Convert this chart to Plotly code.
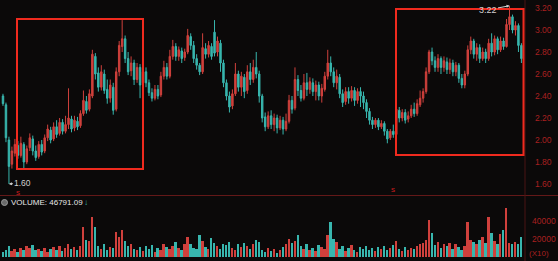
import plotly.graph_objects as go

# ---------------- data ----------------
opens = [2.40, 2.32, 2.00, 1.78, 1.88, 1.95, 1.86, 1.96, 1.80, 1.93,
         2.01, 1.90, 1.85, 1.96, 1.90, 2.02, 2.09, 2.01, 2.12, 2.06,
         2.16, 2.08, 2.14, 2.19, 2.11, 2.17, 2.13, 2.24, 2.35, 2.28,
         2.40, 2.76, 2.61, 2.48, 2.60, 2.46, 2.38, 2.48, 2.28, 2.62,
         2.85, 2.92, 2.74, 2.63, 2.70, 2.55, 2.66, 2.52, 2.62, 2.52,
         2.43, 2.38, 2.46, 2.41, 2.58, 2.66, 2.58, 2.76, 2.85, 2.76,
         2.81, 2.75, 2.80, 2.94, 2.86, 2.74, 2.68, 2.62, 2.83, 2.78,
         2.85, 2.98, 2.80, 2.88, 2.70, 2.52, 2.40, 2.31, 2.42, 2.60,
         2.48, 2.57, 2.45, 2.62, 2.55, 2.66, 2.60, 2.40, 2.21, 2.12,
         2.22, 2.14, 2.20, 2.11, 2.18, 2.10, 2.17, 2.36, 2.29, 2.55,
         2.45, 2.38, 2.52, 2.46, 2.52, 2.44, 2.50, 2.40, 2.46, 2.58,
         2.70, 2.62, 2.52, 2.57, 2.42, 2.35, 2.44, 2.38, 2.45, 2.36,
         2.44, 2.40, 2.34, 2.26, 2.18, 2.14, 2.18, 2.12, 2.15, 2.08,
         2.02, 2.08, 2.05, 2.27, 2.20, 2.25, 2.19, 2.22, 2.28, 2.24,
         2.32, 2.38, 2.44, 2.62, 2.80, 2.72, 2.66, 2.74, 2.66, 2.71,
         2.64, 2.70, 2.62, 2.68, 2.56, 2.50, 2.60, 2.82, 2.90, 2.78,
         2.84, 2.74, 2.80, 2.74, 2.88, 2.80, 2.92, 2.82, 2.90, 2.85,
         3.05, 3.12, 3.00, 3.04, 2.86]
closes = [2.33, 2.02, 1.76, 1.90, 1.96, 1.86, 1.97, 1.80, 1.92, 2.02,
          1.90, 1.84, 1.96, 1.89, 2.02, 2.10, 2.00, 2.12, 2.05, 2.16,
          2.08, 2.14, 2.20, 2.10, 2.18, 2.12, 2.24, 2.36, 2.27, 2.42,
          2.78, 2.60, 2.48, 2.62, 2.45, 2.38, 2.50, 2.27, 2.62, 2.86,
          2.92, 2.74, 2.62, 2.70, 2.55, 2.66, 2.50, 2.62, 2.52, 2.43,
          2.38, 2.46, 2.40, 2.58, 2.66, 2.58, 2.76, 2.85, 2.76, 2.82,
          2.74, 2.80, 2.95, 2.86, 2.74, 2.68, 2.62, 2.84, 2.78, 2.86,
          2.76, 2.79, 2.90, 2.70, 2.52, 2.40, 2.30, 2.42, 2.60, 2.48,
          2.58, 2.44, 2.62, 2.55, 2.66, 2.60, 2.40, 2.20, 2.12, 2.22,
          2.14, 2.20, 2.11, 2.18, 2.10, 2.17, 2.36, 2.28, 2.55, 2.45,
          2.38, 2.52, 2.46, 2.53, 2.44, 2.50, 2.40, 2.47, 2.58, 2.70,
          2.62, 2.52, 2.58, 2.42, 2.34, 2.44, 2.38, 2.45, 2.36, 2.44,
          2.40, 2.34, 2.26, 2.18, 2.14, 2.18, 2.12, 2.15, 2.08, 2.01,
          2.08, 2.05, 2.28, 2.20, 2.25, 2.18, 2.22, 2.28, 2.24, 2.33,
          2.38, 2.44, 2.62, 2.80, 2.72, 2.66, 2.74, 2.66, 2.72, 2.64,
          2.70, 2.62, 2.68, 2.56, 2.50, 2.60, 2.82, 2.90, 2.78, 2.84,
          2.74, 2.80, 2.74, 2.88, 2.80, 2.92, 2.82, 2.90, 2.85, 3.05,
          3.12, 3.00, 3.04, 2.86, 2.74]
highs = [2.42, 2.34, 2.03, 1.94, 2.01, 1.99, 2.03, 1.98, 1.95, 2.06,
         2.04, 1.95, 1.99, 2.00, 2.05, 2.14, 2.12, 2.16, 2.18, 2.20,
         2.19, 2.22, 2.47, 2.22, 2.22, 2.21, 2.27, 2.45, 2.40, 2.46,
         2.82, 2.79, 2.66, 2.68, 2.64, 2.55, 2.55, 2.52, 2.66, 2.90,
         3.09, 2.95, 2.80, 2.76, 2.73, 2.70, 2.69, 2.68, 2.66, 2.55,
         2.47, 2.50, 2.50, 2.62, 2.72, 2.70, 2.82, 2.91, 2.88, 2.85,
         2.84, 2.83, 3.01, 2.97, 2.90, 2.78, 2.70, 2.97, 2.88, 2.90,
         2.88, 3.09, 2.94, 2.91, 2.73, 2.55, 2.44, 2.46, 2.70, 2.63,
         2.62, 2.60, 2.68, 2.70, 2.73, 2.80, 2.63, 2.42, 2.25, 2.26,
         2.27, 2.24, 2.23, 2.22, 2.21, 2.24, 2.41, 2.40, 2.66, 2.59,
         2.50, 2.60, 2.61, 2.57, 2.56, 2.54, 2.53, 2.51, 2.62, 2.82,
         2.76, 2.66, 2.64, 2.60, 2.46, 2.48, 2.48, 2.49, 2.48, 2.47,
         2.48, 2.44, 2.37, 2.29, 2.21, 2.20, 2.20, 2.18, 2.17, 2.10,
         2.10, 2.14, 2.34, 2.30, 2.28, 2.28, 2.26, 2.32, 2.34, 2.37,
         2.45, 2.47, 2.66, 2.82, 2.84, 2.76, 2.78, 2.76, 2.76, 2.75,
         2.74, 2.73, 2.71, 2.70, 2.60, 2.63, 2.86, 2.94, 2.92, 2.88,
         2.87, 2.84, 2.83, 2.92, 2.97, 2.95, 2.94, 2.94, 2.93, 3.10,
         3.22, 3.14, 3.08, 3.06, 2.88]
lows = [2.31, 1.98, 1.60, 1.74, 1.85, 1.83, 1.84, 1.73, 1.78, 1.90,
        1.86, 1.81, 1.83, 1.86, 1.88, 1.99, 1.97, 1.99, 2.02, 2.04,
        2.05, 2.06, 2.10, 2.07, 2.08, 2.09, 2.11, 2.22, 2.24, 2.26,
        2.38, 2.55, 2.44, 2.45, 2.42, 2.33, 2.34, 2.23, 2.26, 2.58,
        2.80, 2.70, 2.59, 2.58, 2.50, 2.52, 2.38, 2.48, 2.48, 2.40,
        2.35, 2.36, 2.37, 2.39, 2.55, 2.55, 2.56, 2.73, 2.72, 2.72,
        2.70, 2.72, 2.78, 2.82, 2.70, 2.64, 2.59, 2.60, 2.74, 2.75,
        2.73, 2.76, 2.76, 2.62, 2.48, 2.36, 2.25, 2.28, 2.40, 2.44,
        2.40, 2.38, 2.42, 2.50, 2.52, 2.56, 2.34, 2.16, 2.08, 2.10,
        2.10, 2.08, 2.06, 2.09, 2.05, 2.08, 2.15, 2.24, 2.27, 2.40,
        2.35, 2.36, 2.40, 2.42, 2.40, 2.36, 2.36, 2.34, 2.44, 2.55,
        2.58, 2.48, 2.46, 2.38, 2.30, 2.32, 2.33, 2.35, 2.31, 2.33,
        2.30, 2.28, 2.20, 2.14, 2.10, 2.11, 2.09, 2.10, 2.04, 1.97,
        2.00, 2.02, 2.04, 2.16, 2.17, 2.15, 2.16, 2.20, 2.21, 2.22,
        2.30, 2.34, 2.42, 2.60, 2.68, 2.62, 2.62, 2.60, 2.62, 2.60,
        2.60, 2.58, 2.58, 2.52, 2.47, 2.47, 2.58, 2.78, 2.74, 2.72,
        2.70, 2.72, 2.70, 2.72, 2.76, 2.77, 2.78, 2.80, 2.82, 2.84,
        3.00, 2.97, 2.95, 2.80, 2.70]
volumes_k = [6, 8, 12, 7, 9, 6, 10, 8, 12, 10,
             13, 8, 9, 7, 10, 6, 9, 11, 8, 12,
             7, 10, 14, 9, 11, 8, 12, 33, 19, 18,
             44, 33, 12, 9, 14, 8, 11, 10, 28, 22,
             30, 18, 12, 15, 9, 8, 11, 7, 12, 9,
             13, 6, 10, 8, 14, 11, 9, 12, 17, 10,
             8, 15, 22, 14, 10, 9, 25, 18, 11, 9,
             21, 16, 12, 9, 15, 13, 17, 10, 8, 14,
             11, 16, 12, 9, 14, 19, 17, 8, 6, 10,
             7, 9, 5, 8, 11, 14, 20, 16, 18, 24,
             12, 9, 15, 8, 10, 7, 13, 11, 9, 25,
             39, 20, 17, 9, 12, 7, 10, 13, 8, 6,
             11, 9, 12, 8, 10, 7, 11, 9, 12, 8,
             10, 13, 18, 9, 7, 11, 8, 10, 9, 12,
             14, 16, 19, 41, 27, 13, 17, 10, 15, 12,
             16, 9, 14, 11, 8, 12, 39, 19, 17, 14,
             19, 22, 16, 44, 27, 18, 15, 26, 30, 54,
             16, 14, 17, 15, 22]
price_ticks = [1.60, 1.80, 2.00, 2.20, 2.40, 2.60, 2.80, 3.00, 3.20]
volume_ticks = [20000, 40000]

n = len(closes)
assert len(opens) == n and len(highs) == n and len(lows) == n and len(volumes_k) == n
idx = list(range(n))
volumes = [v * 1000 for v in volumes_k]

RED = "#d0403c"
CYAN = "#38b6ae"
AXIS_RED = "#a82020"
BOX_RED = "#f02a1e"
BG = "#0b0909"

vol_colors = [RED if c >= o else CYAN for o, c in zip(opens, closes)]

W, H = 558, 261
PW = 525  # plot area width (right margin holds price labels)

fig = go.Figure()
fig.add_trace(go.Candlestick(
    x=idx, open=opens, high=highs, low=lows, close=closes,
    increasing=dict(line=dict(color=RED, width=1), fillcolor=RED),
    decreasing=dict(line=dict(color=CYAN, width=1), fillcolor=CYAN),
    whiskerwidth=0, showlegend=False, hoverinfo="skip",
    xaxis="x", yaxis="y",
))
fig.add_trace(go.Bar(
    x=idx, y=volumes, marker=dict(color=vol_colors, line=dict(width=0)),
    width=0.62, showlegend=False, hoverinfo="skip",
    xaxis="x", yaxis="y2",
))

def px_x(px):
    return px / PW

def px_y(py):
    return 1 - py / H

split = 1 - 196 / H

shapes = [
    # separator between price and volume panes
    dict(type="line", xref="paper", yref="paper", x0=0, x1=W / PW, y0=px_y(195.5), y1=px_y(195.5),
         line=dict(color="#641818", width=1)),
    # right axis border
    dict(type="line", xref="paper", yref="paper", x0=1, x1=1, y0=0, y1=1,
         line=dict(color="#4a1414", width=1)),
    # highlighted zones
    dict(type="rect", xref="paper", yref="paper", x0=px_x(17), x1=px_x(143), y0=px_y(169), y1=px_y(19),
         line=dict(color=BOX_RED, width=2)),
    dict(type="rect", xref="paper", yref="paper", x0=px_x(396), x1=px_x(523.5), y0=px_y(155), y1=px_y(9),
         line=dict(color=BOX_RED, width=2)),
    # small round icon before the VOLUME label
    dict(type="circle", xref="paper", yref="paper", x0=px_x(1.5), x1=px_x(7.5), y0=px_y(205.5), y1=px_y(199.5),
         line=dict(color="#9a9a9a", width=1), fillcolor="#6a6a6a"),
]

annotations = [
    dict(x=170, y=3.22, xref="x", yref="y", text="3.22", showarrow=True, arrowhead=2, arrowsize=0.6,
         arrowwidth=1, arrowcolor="#d0d0d0", ax=-22, ay=4, font=dict(size=9, color="#d0d0d0", family="Arial")),
    dict(x=2, y=1.60, xref="x", yref="y", text="1.60", showarrow=True, arrowhead=2, arrowsize=0.6,
         arrowwidth=1, arrowcolor="#d0d0d0", ax=14, ay=-1, font=dict(size=8.5, color="#d0d0d0", family="Arial")),
    dict(x=px_x(14), y=px_y(193), xref="paper", yref="paper", yanchor="middle", text="S", showarrow=False,
         font=dict(size=6, color="#e02020", family="Arial")),
    dict(x=px_x(397), y=px_y(190), xref="paper", yref="paper", yanchor="middle", text="S", showarrow=False,
         font=dict(size=6, color="#e02020", family="Arial")),
    dict(x=px_x(9), y=px_y(202.5), xref="paper", yref="paper", xanchor="left", yanchor="middle",
         text="VOLUME: 46791.09", showarrow=False, font=dict(size=8, color="#e8e8e8", family="Arial")),
    dict(x=px_x(82), y=px_y(202.5), xref="paper", yref="paper", xanchor="left", yanchor="middle",
         text="↓", showarrow=False, font=dict(size=8, color=CYAN, family="Arial")),
    dict(x=px_x(527), y=px_y(253.5), xref="paper", yref="paper", xanchor="left", yanchor="middle",
         text="(X10)", showarrow=False, font=dict(size=8, color=AXIS_RED, family="Arial")),
]

fig.update_layout(
    width=W, height=H,
    margin=dict(l=0, r=W - PW, t=0, b=0),
    paper_bgcolor=BG, plot_bgcolor=BG,
    showlegend=False,
    bargap=0,
    xaxis=dict(range=[-1.0, 175.2], showgrid=False, zeroline=False, showticklabels=False,
               showline=False, ticks="", rangeslider=dict(visible=False), fixedrange=True),
    yaxis=dict(domain=[split, 1], range=[1.4909, 3.2727], side="right",
               tickvals=price_ticks, ticktext=[f"{t:.2f}" for t in price_ticks],
               showgrid=False, zeroline=False, showline=False, ticks="",
               ticklabelstandoff=9, tickfont=dict(size=8.5, color=AXIS_RED, family="Arial")),
    yaxis2=dict(domain=[0, split], range=[-4444, 67778], side="right", anchor="x",
                tickvals=volume_ticks, ticktext=[str(t) for t in volume_ticks],
                showgrid=False, zeroline=False, showline=False, ticks="",
                ticklabelstandoff=6, tickfont=dict(size=8.5, color=AXIS_RED, family="Arial")),
    shapes=shapes,
    annotations=annotations,
)

fig.write_html("out.html")
